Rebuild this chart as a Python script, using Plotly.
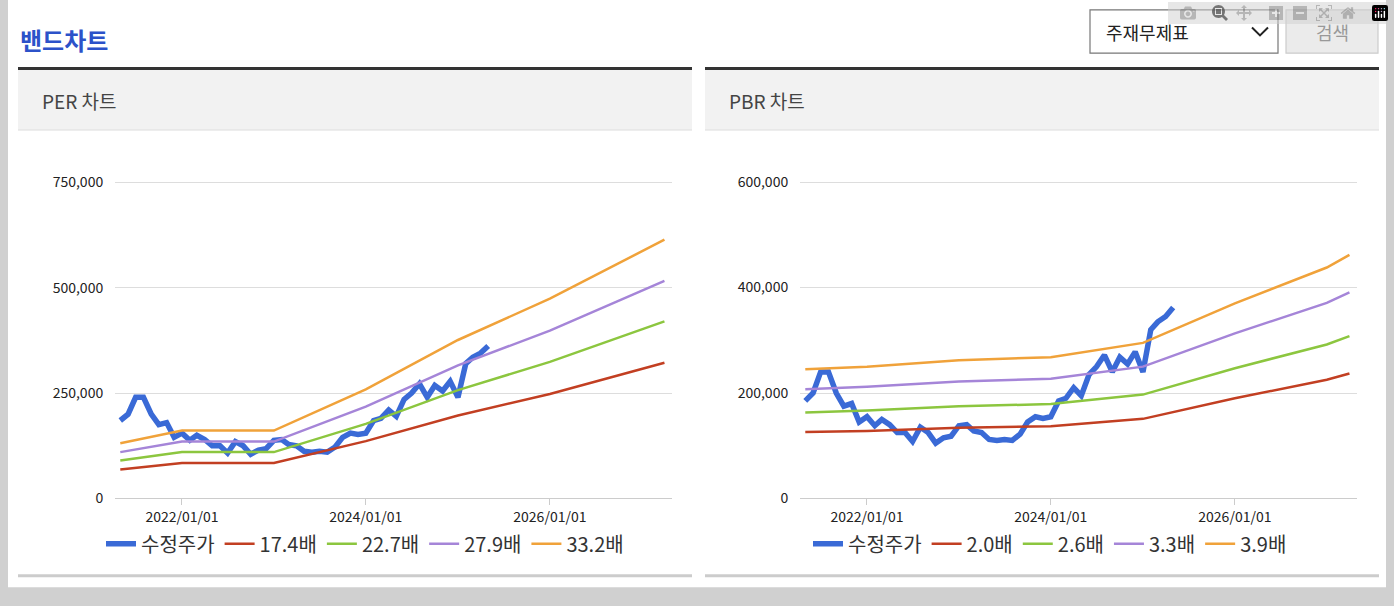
import plotly.graph_objects as go

W, H = 1394, 606
px = lambda x: x / W
py = lambda y: 1 - y / H

price_dates = [f"{y}-{m:02d}-01" for y in range(2021, 2026) for m in range(1, 13)][4:53]
price = [185,200,240,240,200,175,180,145,
         155,138,150,140,125,125,108,135,125,105,115,118,
         138,140,128,125,112,110,112,110,122,145,155,152,
         155,185,190,210,195,235,250,272,240,268,255,278,
         240,320,335,345,362]
price = [v * 1000 for v in price]

per_dates = ["2021-05-01","2022-01-01","2023-01-01","2024-01-01","2025-01-01","2026-01-01","2027-04-01"]
per_174 = [69,84,84,136,197,248,322]
per_227 = [90,110,110,177,257,324,420]
per_279 = [110,135,135,218,316,398,516]
per_332 = [131,161,161,259,376,474,614]

pbr_dates = ["2021-05-01","2022-01-01","2023-01-01","2024-01-01","2025-01-01","2026-01-01","2027-01-01","2027-04-01"]
pbr_20 = [126,128,134,137,151,190,225,237]
pbr_26 = [163,167,175,179,197,247,292,308]
pbr_33 = [207,212,222,227,250,313,371,391]
pbr_39 = [245,250,262,268,295,370,438,462]

BLUE, RED, GREEN, PURPLE, ORANGE = "#3a6ad6", "#c23f22", "#8cc63f", "#a585d8", "#f0a23a"
k = lambda a: [v * 1000 for v in a]

fig = go.Figure()
def add(x, y, name, color, w, xa, ya, leg):
    fig.add_trace(go.Scatter(x=x, y=y, name=name, mode="lines", line=dict(color=color, width=w),
                             xaxis=xa, yaxis=ya, legend=leg))
add(price_dates, price, "수정주가", BLUE, 5.5, "x", "y", "legend")
for arr, n, c in [(per_174,"17.4배",RED),(per_227,"22.7배",GREEN),(per_279,"27.9배",PURPLE),(per_332,"33.2배",ORANGE)]:
    add(per_dates, k(arr), n, c, 2.5, "x", "y", "legend")
add(price_dates, price, "수정주가", BLUE, 5.5, "x2", "y2", "legend2")
for arr, n, c in [(pbr_20,"2.0배",RED),(pbr_26,"2.6배",GREEN),(pbr_33,"3.3배",PURPLE),(pbr_39,"3.9배",ORANGE)]:
    add(pbr_dates, k(arr), n, c, 2.5, "x2", "y2", "legend2")

xcommon = dict(range=["2021-04-10","2027-05-01"], tickvals=["2022-01-01","2024-01-01","2026-01-01"],
               ticktext=["2022/01/01","2024/01/01","2026/01/01"], showgrid=False, showline=True,
               linecolor="#cccccc", ticks="outside", ticklen=6, tickcolor="#cccccc",
               tickfont=dict(size=14, color="#222"))
ycommon = dict(showgrid=True, gridcolor="#dddddd", tickformat=",", zeroline=False,
               tickfont=dict(size=14, color="#222"), domain=[py(506), py(150)], ticks="outside",
               ticklen=8, tickcolor="rgba(0,0,0,0)")
leg = dict(orientation="h", xanchor="center", yanchor="middle", font=dict(size=20, color="#333"),
           bgcolor="rgba(0,0,0,0)", itemwidth=30, tracegroupgap=0)

def A(text, x, y, size, color, xanchor="left"):
    return dict(text=text, x=px(x), y=py(y), xref="paper", yref="paper", xanchor=xanchor,
                yanchor="middle", showarrow=False, font=dict(size=size, color=color))

shapes = [dict(type="rect", xref="paper", yref="paper", x0=px(8), x1=px(1386), y0=py(596), y1=py(0),
               fillcolor="white", line_width=0, layer="below")]
ann = [A("<b>밴드차트</b>", 18, 40, 24, "#2c52c9")]
for x0, x1, t in [(18, 692, "PER 차트"), (705, 1379, "PBR 차트")]:
    shapes += [
        dict(type="rect", xref="paper", yref="paper", x0=px(x0), x1=px(x1), y0=py(132), y1=py(71),
             fillcolor="#f2f2f2", line_width=0, layer="below"),
        dict(type="line", xref="paper", yref="paper", x0=px(x0), x1=px(x1), y0=py(132), y1=py(132),
             line=dict(color="#dddddd", width=1)),
        dict(type="line", xref="paper", yref="paper", x0=px(x0), x1=px(x1), y0=py(69.5), y1=py(69.5),
             line=dict(color="#333333", width=3)),
        dict(type="line", xref="paper", yref="paper", x0=px(x0), x1=px(x1), y0=py(584.5), y1=py(584.5),
             line=dict(color="#cccccc", width=3)),
    ]
    ann.append(A(t, x0 + 22, 102, 19, "#444"))
shapes += [
    dict(type="rect", xref="paper", yref="paper", x0=px(1090), x1=px(1278), y0=py(54), y1=py(10),
         fillcolor="white", line=dict(color="#777", width=1.2)),
    dict(type="rect", xref="paper", yref="paper", x0=px(1286), x1=px(1378), y0=py(54), y1=py(10),
         fillcolor="#ebebeb", line=dict(color="#cccccc", width=1.2)),
    dict(type="path", xref="paper", yref="paper",
         path=f"M {px(1252)} {py(28)} L {px(1260)} {py(36)} L {px(1268)} {py(28)}",
         line=dict(color="#222", width=2)),
]
ann += [A("주재무제표", 1104, 32, 18, "#222"), A("검색", 1332, 32, 18, "#999", "center")]

fig.update_layout(
    width=W, height=H, margin=dict(l=0, r=0, t=0, b=0), paper_bgcolor="#d0d0d0", plot_bgcolor="white",
    font=dict(family="Noto Sans CJK KR, Noto Sans, sans-serif"),
    xaxis=dict(**xcommon, domain=[px(115), px(672)], anchor="y"),
    xaxis2=dict(**xcommon, domain=[px(800), px(1357)], anchor="y2"),
    yaxis=dict(**ycommon, range=[0, 832000], tickvals=[0, 250000, 500000, 750000], anchor="x"),
    yaxis2=dict(**ycommon, range=[0, 665000], tickvals=[0, 200000, 400000, 600000], anchor="x2"),
    legend=dict(**leg, x=px(365), y=py(552)),
    legend2=dict(**leg, x=px(1050), y=py(552)),
    shapes=shapes, annotations=ann, showlegend=True,
)
fig.write_html("out.html")
with open("out.html", encoding="utf-8") as f:
    html = f.read()
html = html.replace("<body>", '<body style="margin:0;overflow:hidden">', 1)
with open("out.html", "w", encoding="utf-8") as f:
    f.write(html)
